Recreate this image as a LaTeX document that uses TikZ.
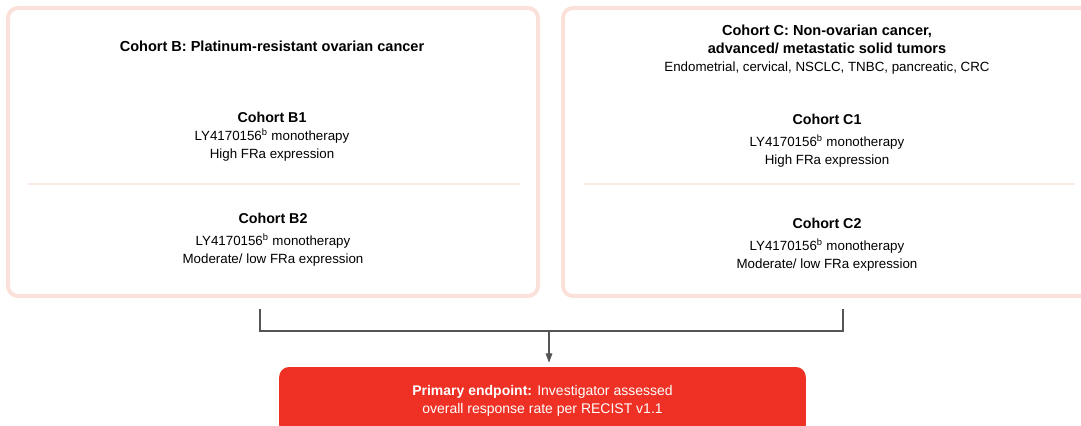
\documentclass[tikz,border=0pt]{standalone}
\usepackage{fontspec}
\setmainfont{Liberation Sans}
\usepackage{xcolor}
\usepackage{tikz}
\usetikzlibrary{calc, positioning, arrows.meta}
\definecolor{cohortline}{HTML}{FAE2DA}
\definecolor{sepline}{HTML}{FCEBE5}
\definecolor{endred}{HTML}{EE3124}
\definecolor{linkgray}{HTML}{555555}
\newcommand{\cohorthead}[1]{{\bfseries\fontsize{10.7}{13.5}\selectfont #1}}
\tikzset{
    cohort/.style={rectangle, draw=cohortline, line width=3pt, fill=white, rounded corners=7.5pt, minimum height=216pt},
    sep/.style={draw=sepline, line width=1pt},
    title/.style={font=\bfseries\fontsize{10.9}{13.5}\selectfont, align=center},
    arm/.style={font=\fontsize{10}{13.5}\selectfont, align=center},
    endpoint/.style={rectangle, fill=endred, rounded corners=7.5pt, minimum width=395pt, minimum height=51pt, text=white, align=center, font=\fontsize{10.5}{13.5}\selectfont},
    link/.style={draw=linkgray, line width=0.8pt},
    arrow/.style={-{Triangle[length=7pt, width=5pt]}, draw=linkgray, line width=0.8pt}
}
\begin{document}
\begin{tikzpicture}[x=0.75pt, y=0.75pt]
        \useasboundingbox (0,0) rectangle (1081,425);

        % Cohort boxes
        \node[cohort, minimum width=397.5pt] (BoxB) at (273,273) {};
        \node[cohort, minimum width=395.25pt] (BoxC) at (826.5,273) {};

        % Cohort B
        \node[title] (TitleB) at (272,379) {Cohort B: Platinum-resistant ovarian cancer};
        \node[arm] (B1) at (272,288) {\cohorthead{Cohort B1}\\LY4170156\textsuperscript{b} monotherapy\\High FRa expression};
        \draw[sep] (28,241) -- (520,241);
        \node[arm] (B2) at (273,185) {\cohorthead{Cohort B2}\\[3pt]LY4170156\textsuperscript{b} monotherapy\\Moderate/ low FRa expression};

        % Cohort C
        \node[title] (TitleC) at (827,375) {Cohort C: Non-ovarian cancer,\\advanced/ metastatic solid tumors\\\mdseries\fontsize{10}{13.5}\selectfont Endometrial, cervical, NSCLC, TNBC, pancreatic, CRC};
        \node[arm] (C1) at (827,284) {\cohorthead{Cohort C1}\\[3pt]LY4170156\textsuperscript{b} monotherapy\\High FRa expression};
        \draw[sep] (584,241) -- (1075,241);
        \node[arm] (C2) at (827,180) {\cohorthead{Cohort C2}\\[3pt]LY4170156\textsuperscript{b} monotherapy\\Moderate/ low FRa expression};

        % Primary endpoint
        \node[endpoint] (End) at (542.5,24) {\textbf{Primary endpoint:} Investigator assessed\\overall response rate per RECIST v1.1};

        % Edges
        \coordinate (Join) at (549,94);
        \draw[link] ($(BoxB.south)+(-13,-11)$) |- (Join) -| ($(BoxC.south)+(16.5,-11)$);
        \draw[arrow, shorten >=3pt] (Join) -- (End.north -| Join);

    \end{tikzpicture}
\end{document}
